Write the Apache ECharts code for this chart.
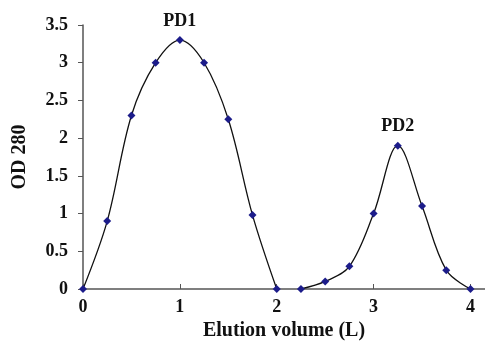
<!DOCTYPE html>
<html>
<head>
<meta charset="utf-8">
<script src="https://cdn.jsdelivr.net/npm/echarts@6/dist/echarts.min.js"></script>
<style>
  html, body { margin: 0; padding: 0; background: #fff; }
  #chart { width: 485px; height: 343px; }
</style>
</head>
<body>
<div id="chart"></div>
<script>
// elution volume (L) and OD 280 readings, one pair of arrays per peak
const volume1 = [0, 0.25, 0.5, 0.75, 1, 1.25, 1.5, 1.75, 2];
const od1 = [0, 0.9, 2.3, 3.0, 3.3, 3.0, 2.25, 0.98, 0];
const volume2 = [2.25, 2.5, 2.75, 3, 3.25, 3.5, 3.75, 4];
const od2 = [0, 0.1, 0.3, 1.0, 1.9, 1.1, 0.25, 0];
const peakNames = ['PD1', 'PD2'];

const serif = '"Liberation Serif", "DejaVu Serif", serif';
const markerColor = '#1c1c8a';

function buildPoints(xs, ys, peakName) {
  const top = Math.max(...ys);
  return xs.map((x, i) => {
    const item = { value: [x, ys[i]] };
    if (ys[i] === top) {
      item.label = {
        show: true, position: 'top', distance: 6, formatter: peakName,
        fontFamily: serif, fontWeight: 'bold', fontSize: 18, color: '#111'
      };
    }
    return item;
  });
}

function peakSeries(data) {
  return {
    type: 'line', smooth: 0.35, data: data,
    symbol: 'diamond', symbolSize: 8,
    itemStyle: { color: markerColor },
    lineStyle: { color: '#111', width: 1.3 },
    emphasis: { disabled: true }
  };
}

const chart = echarts.init(document.getElementById('chart'));
chart.setOption({
  animation: false,
  grid: { left: 83, right: 0, top: 25, bottom: 54, outerBoundsMode: 'none' },
  xAxis: {
    type: 'value', min: 0, max: 4.15, interval: 1,
    name: 'Elution volume (L)', nameLocation: 'middle', nameGap: 29,
    nameTextStyle: { fontFamily: serif, fontWeight: 'bold', fontSize: 20, color: '#111' },
    axisLine: { lineStyle: { color: '#555', width: 1.5 } },
    axisTick: { inside: true, length: 5, lineStyle: { color: '#555' } },
    axisLabel: { showMaxLabel: false, margin: 9, fontFamily: serif, fontWeight: 'bold', fontSize: 18, color: '#111' },
    splitLine: { show: false }
  },
  yAxis: {
    type: 'value', min: 0, max: 3.5, interval: 0.5,
    name: 'OD 280', nameLocation: 'middle', nameGap: 53, nameRotate: 90,
    nameTextStyle: { fontFamily: serif, fontWeight: 'bold', fontSize: 20, color: '#111' },
    axisLine: { show: true, lineStyle: { color: '#555', width: 1.5 } },
    axisTick: { show: true, length: 5, lineStyle: { color: '#555' } },
    axisLabel: { margin: 15, fontFamily: serif, fontWeight: 'bold', fontSize: 18, color: '#111' },
    splitLine: { show: false }
  },
  series: [
    peakSeries(buildPoints(volume1, od1, peakNames[0])),
    peakSeries(buildPoints(volume2, od2, peakNames[1]))
  ]
});
</script>
</body>
</html>
